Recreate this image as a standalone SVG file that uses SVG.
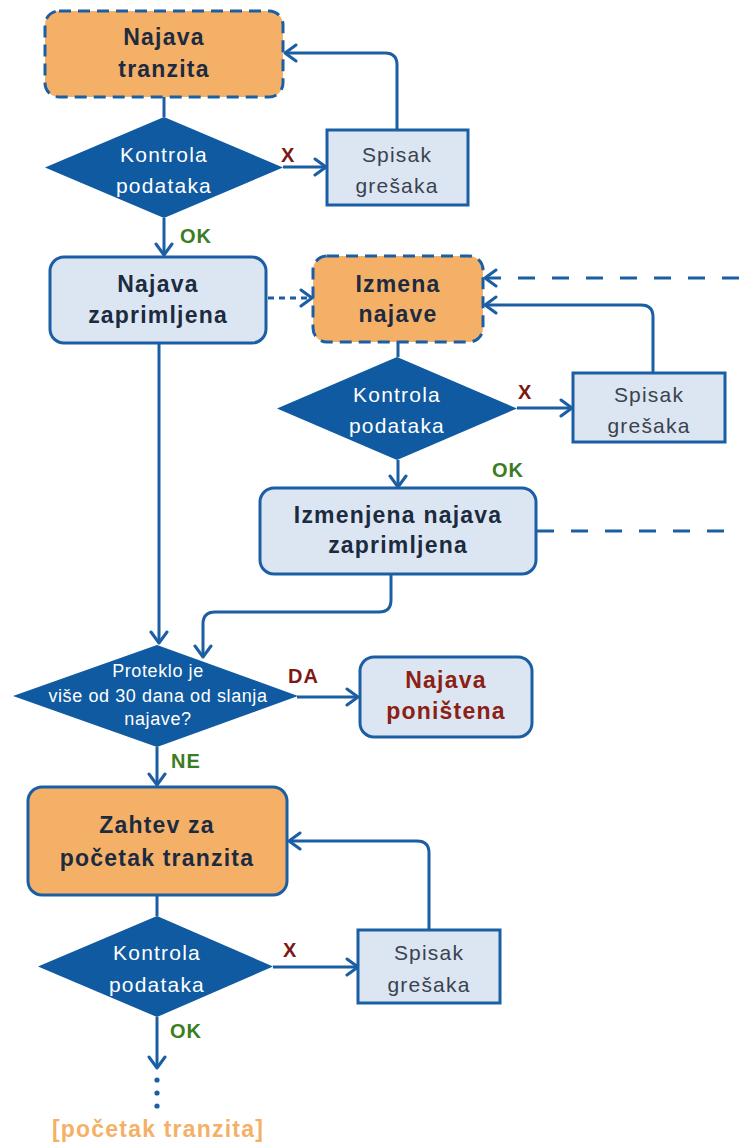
<svg xmlns="http://www.w3.org/2000/svg" width="739" height="1144" viewBox="0 0 739 1144">
<defs>
<marker id="arr" markerUnits="userSpaceOnUse" markerWidth="16" markerHeight="20" refX="13" refY="10" orient="auto">
<path d="M2,2 L13,10 L2,18" fill="none" stroke="#1B5EA4" stroke-width="3" stroke-linecap="round" stroke-linejoin="round"/>
</marker>
</defs>
<style>
text{font-family:"Liberation Sans",Arial,sans-serif;text-anchor:middle}
.orange{fill:#F5B067;stroke:#1B5EA4;stroke-width:3}
.dash{stroke-dasharray:12 7}
.light{fill:#DCE6F2;stroke:#1B5EA4;stroke-width:3}
.dia{fill:#0F5AA0}
.nt{font-size:23px;font-weight:bold;fill:#1C2B3F;letter-spacing:1.2px}
.dt{font-size:21px;fill:#FFFFFF;letter-spacing:1.2px}
.st{font-size:21px;fill:#3A4250;letter-spacing:1.2px}
.sm{font-size:18px;fill:#FFFFFF;letter-spacing:0.6px}
.ok{font-size:20px;font-weight:bold;fill:#3A7D22;letter-spacing:1px;text-anchor:start}
.x{font-size:20px;font-weight:bold;fill:#7B1A14;letter-spacing:1px;text-anchor:start}
.red{font-size:23px;font-weight:bold;fill:#8B2015;letter-spacing:1.2px}
.ln{fill:none;stroke:#1B5EA4;stroke-width:3}
.ar{marker-end:url(#arr)}
</style>

<g id="connectors">
<path class="ln" d="M164,97 V117"/>
<path class="ln ar" d="M283,167 H326"/>
<path class="ln ar" d="M397,130 V65 Q397,53 385,53 H285"/>
<path class="ln ar" d="M164,218 V255"/>
<path class="ln ar" d="M268,298 H312" style="stroke-dasharray:6 5"/>
<path class="ln ar" d="M739,278 H485" style="stroke-dasharray:17 17"/>
<path class="ln" d="M398,342 V357"/>
<path class="ln ar" d="M517,408 H572"/>
<path class="ln ar" d="M653,373 V317 Q653,305 641,305 H485"/>
<path class="ln ar" d="M398,460 V487"/>
<path class="ln" d="M537,531 H739" style="stroke-dasharray:17 17"/>
<path class="ln ar" d="M391,574 V600 Q391,612 379,612 H215 Q203,612 203,624 V657"/>
<path class="ln ar" d="M159,343 V643"/>
<path class="ln ar" d="M297,697 H358"/>
<path class="ln ar" d="M157,747 V785"/>
<path class="ln" d="M157,895 V916"/>
<path class="ln ar" d="M273,967 H358"/>
<path class="ln ar" d="M429,930 V853 Q429,841 417,841 H289"/>
<path class="ln ar" d="M157,1017 V1068"/>
<circle cx="157" cy="1080" r="2.6" fill="#1B5EA4"/>
<circle cx="157" cy="1093" r="2.6" fill="#1B5EA4"/>
<circle cx="157" cy="1106" r="2.6" fill="#1B5EA4"/>
<text class="x" x="281" y="162">X</text>
<text class="ok" x="180" y="243">OK</text>
<text class="x" x="518" y="399">X</text>
<text class="ok" x="492" y="477">OK</text>
<text class="x" x="288" y="683">DA</text>
<text class="ok" x="171" y="768">NE</text>
<text class="x" x="283" y="957">X</text>
<text class="ok" x="170" y="1038">OK</text>
</g>

<g id="najava-tranzita">
<rect class="orange dash" x="45" y="11" width="238" height="86" rx="14"/>
<text class="nt" x="164" y="45">Najava</text>
<text class="nt" x="164" y="77">tranzita</text>
</g>

<g id="kontrola-1">
<polygon class="dia" points="164,117 283,167.5 164,218 45,167.5"/>
<text class="dt" x="164" y="162">Kontrola</text>
<text class="dt" x="164" y="193">podataka</text>
</g>

<g id="spisak-1">
<rect class="light" x="327" y="130" width="141" height="75"/>
<text class="st" x="397" y="162">Spisak</text>
<text class="st" x="397" y="193">grešaka</text>
</g>

<g id="najava-zaprimljena">
<rect class="light" x="50" y="257" width="216" height="86" rx="14"/>
<text class="nt" x="158" y="292">Najava</text>
<text class="nt" x="158" y="323">zaprimljena</text>
</g>

<g id="izmena-najave">
<rect class="orange dash" x="313" y="256" width="170" height="86" rx="14"/>
<text class="nt" x="398" y="292">Izmena</text>
<text class="nt" x="398" y="322">najave</text>
</g>

<g id="kontrola-2">
<polygon class="dia" points="397,357 517,408.5 397,460 277,408.5"/>
<text class="dt" x="397" y="402">Kontrola</text>
<text class="dt" x="397" y="433">podataka</text>
</g>

<g id="spisak-2">
<rect class="light" x="573" y="373" width="152" height="69"/>
<text class="st" x="649" y="402">Spisak</text>
<text class="st" x="649" y="433">grešaka</text>
</g>

<g id="izmenjena-najava-zaprimljena">
<rect class="light" x="260" y="488" width="276" height="86" rx="14"/>
<text class="nt" x="398" y="523">Izmenjena najava</text>
<text class="nt" x="398" y="553">zaprimljena</text>
</g>

<g id="proteklo">
<polygon class="dia" points="157,645 298,696 157,747 13,696"/>
<text class="sm" x="158" y="677">Proteklo je</text>
<text class="sm" x="158" y="702">više od 30 dana od slanja</text>
<text class="sm" x="158" y="725">najave?</text>
</g>

<g id="najava-ponistena">
<rect class="light" x="360" y="657" width="172" height="80" rx="14"/>
<text class="red" x="446" y="688">Najava</text>
<text class="red" x="446" y="719">poništena</text>
</g>

<g id="zahtev">
<rect class="orange" x="28" y="787" width="259" height="108" rx="14"/>
<text class="nt" x="157" y="833">Zahtev za</text>
<text class="nt" x="157" y="866">početak tranzita</text>
</g>

<g id="kontrola-3">
<polygon class="dia" points="157,916 273,966.5 157,1017 38,966.5"/>
<text class="dt" x="157" y="960">Kontrola</text>
<text class="dt" x="157" y="992">podataka</text>
</g>

<g id="spisak-3">
<rect class="light" x="358" y="930" width="142" height="73"/>
<text class="st" x="429" y="960">Spisak</text>
<text class="st" x="429" y="992">grešaka</text>
</g>

<g id="pocetak-tranzita">
<text x="158" y="1137" style="font-size:23px;font-weight:bold;fill:#F5B067;letter-spacing:1.2px;stroke:#FFFFFF;stroke-width:2;paint-order:stroke">[početak tranzita]</text>
</g>
</svg>
